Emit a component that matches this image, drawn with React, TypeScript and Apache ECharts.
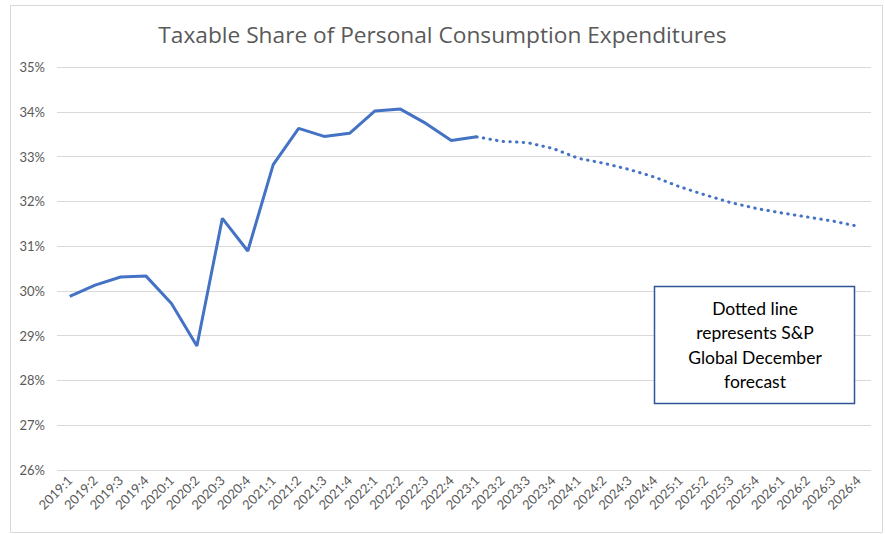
import React, { useEffect, useRef } from "react";
import * as echarts from "echarts";

const categories = [
  "2019:1","2019:2","2019:3","2019:4",
  "2020:1","2020:2","2020:3","2020:4",
  "2021:1","2021:2","2021:3","2021:4",
  "2022:1","2022:2","2022:3","2022:4",
  "2023:1","2023:2","2023:3","2023:4",
  "2024:1","2024:2","2024:3","2024:4",
  "2025:1","2025:2","2025:3","2025:4",
  "2026:1","2026:2","2026:3","2026:4",
];

// Actual taxable share (%), 2019:1 – 2023:1
const actualValues = [
  29.88, 30.13, 30.31, 30.33,
  29.72, 28.77, 31.62, 30.89,
  32.82, 33.63, 33.45, 33.52,
  34.02, 34.06, 33.74, 33.36,
  33.44,
];

// S&P Global December forecast (%), 2023:1 – 2026:4
const forecastValues = [
  33.44, 33.34, 33.31, 33.18,
  32.96, 32.85, 32.71, 32.54,
  32.32, 32.14, 31.97, 31.84,
  31.74, 31.65, 31.56, 31.44,
];

const yTicks = { min: 26, max: 35, step: 1 };
const titleText = "Taxable Share of Personal Consumption Expenditures";
const noteText = "Dotted line\nrepresents S&P\nGlobal December\nforecast";

export default function App() {
  const ref = useRef<HTMLDivElement>(null);
  useEffect(() => {
    if (!ref.current) return;
    const chart = echarts.init(ref.current, undefined, { renderer: "svg" });
    const n = categories.length;
    const actual = categories.map((_, i) => (i < actualValues.length ? actualValues[i] : null));
    const startF = n - forecastValues.length;
    const forecast = categories.map((_, i) => (i >= startF ? forecastValues[i - startF] : null));
    chart.setOption({
      animation: false,
      backgroundColor: "#ffffff",
      title: {
        text: titleText,
        left: "center",
        top: 18,
        textStyle: { fontFamily: "Open Sans", fontSize: 22.7, fontWeight: "normal", color: "#595959" },
      },
      grid: { left: 57, right: 14, top: 67, bottom: 64 },
      xAxis: {
        type: "category",
        data: categories,
        boundaryGap: true,
        axisLine: { show: false },
        axisTick: { show: false },
        axisLabel: {
          rotate: 45,
          interval: 0,
          margin: 8,
          fontFamily: "Lato",
          fontSize: 13,
          color: "#595959",
        },
      },
      yAxis: {
        type: "value",
        min: yTicks.min,
        max: yTicks.max,
        interval: yTicks.step,
        axisLine: { show: false },
        axisTick: { show: false },
        splitLine: { lineStyle: { color: "#D9D9D9", width: 1 } },
        axisLabel: {
          formatter: "{value}%",
          fontFamily: "Lato",
          fontSize: 13,
          color: "#595959",
          margin: 12,
        },
      },
      series: [
        {
          name: "Actual",
          type: "line",
          data: actual,
          showSymbol: false,
          connectNulls: false,
          lineStyle: { color: "#4472C4", width: 3 },
          itemStyle: { color: "#4472C4" },
        },
        {
          name: "Forecast",
          type: "line",
          data: forecast,
          showSymbol: false,
          connectNulls: false,
          lineStyle: { color: "#4472C4", width: 3, type: [0.5, 6.2], cap: "round" },
          itemStyle: { color: "#4472C4" },
        },
      ],
      graphic: [
        {
          type: "rect",
          shape: { x: 10.5, y: 5.5, width: 872, height: 527 },
          style: { fill: "none", stroke: "#D9D9D9", lineWidth: 1 },
          silent: true,
        },
        {
          type: "rect",
          shape: { x: 654.5, y: 286.5, width: 200, height: 117 },
          style: { fill: "#ffffff", stroke: "#2F5597", lineWidth: 1.5 },
          z: 100,
        },
        {
          type: "text",
          x: 755,
          y: 345,
          z: 101,
          style: {
            text: noteText,
            fontFamily: "Lato",
            fontSize: 17.5,
            lineHeight: 24.5,
            fill: "#000000",
            align: "center",
            verticalAlign: "middle",
          },
        },
      ],
    });
    return () => chart.dispose();
  }, []);
  return <div ref={ref} style={{ width: 885, height: 534, position: "absolute", left: 0, top: 0 }} />;
}
